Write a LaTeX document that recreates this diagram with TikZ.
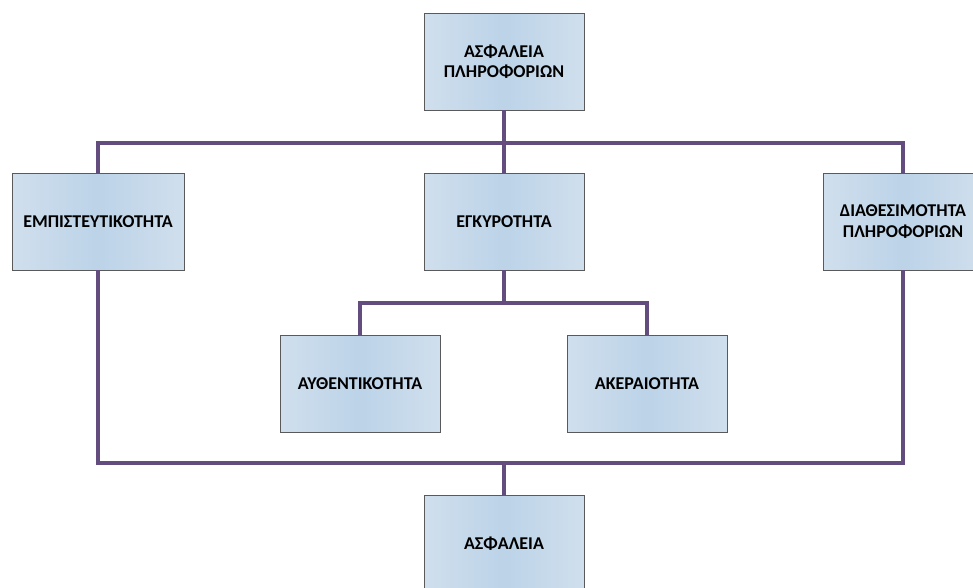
\documentclass[tikz,border=0pt]{standalone}
\usepackage{fontspec}
\setmainfont{Carlito}
\begin{document}
\definecolor{boxedge}{HTML}{D0DFED}
\definecolor{boxmid}{HTML}{BCD3E8}
\definecolor{boxline}{HTML}{5A5A5A}
\definecolor{link}{HTML}{634D7E}
\begin{tikzpicture}[x=1pt,y=-1pt,
  box/.style={draw=boxline, line width=0.9pt, left color=boxedge, right color=boxedge,
    middle color=boxmid, minimum width=160pt, minimum height=97pt, inner sep=0pt,
    align=center, font=\bfseries\fontsize{18}{20.5}\selectfont},
  wire/.style={draw=link, line width=3.2pt}]
\useasboundingbox (0,0) rectangle (973,587);
\clip (0,0) rectangle (973,587);
% boxes
\node[box] (top)  at (504,61.5)  {ΑΣΦΑΛΕΙΑ\\ΠΛΗΡΟΦΟΡΙΩΝ};
\node[box, minimum width=172pt] (conf) at (98,221.5)  {ΕΜΠΙΣΤΕΥΤΙΚΟΤΗΤΑ};
\node[box] (valid) at (504,221.5) {ΕΓΚΥΡΟΤΗΤΑ};
\node[box] (avail) at (903,221.5) {ΔΙΑΘΕΣΙΜΟΤΗΤΑ\\ΠΛΗΡΟΦΟΡΙΩΝ};
\node[box] (auth) at (360,383.5) {ΑΥΘΕΝΤΙΚΟΤΗΤΑ};
\node[box] (integ) at (647,383.5) {ΑΚΕΡΑΙΟΤΗΤΑ};
\node[box] (sec)  at (504,543.5) {ΑΣΦΑΛΕΙΑ};
% junction points
\coordinate (jtop) at (504,143);
\coordinate (jmid) at (504,303);
\coordinate (jbot) at (504,463);
% connectors
\draw[wire] (top.south) -- (jtop);
\draw[wire] (conf.north) |- (jtop) -| (avail.north);
\draw[wire] (jtop) -- (valid.north);
\draw[wire] (valid.south) -- (jmid);
\draw[wire] (auth.north) |- (jmid) -| (integ.north);
\draw[wire] (conf.south) |- (jbot) -| (avail.south);
\draw[wire] (jbot) -- (sec.north);
\end{tikzpicture}
\end{document}
